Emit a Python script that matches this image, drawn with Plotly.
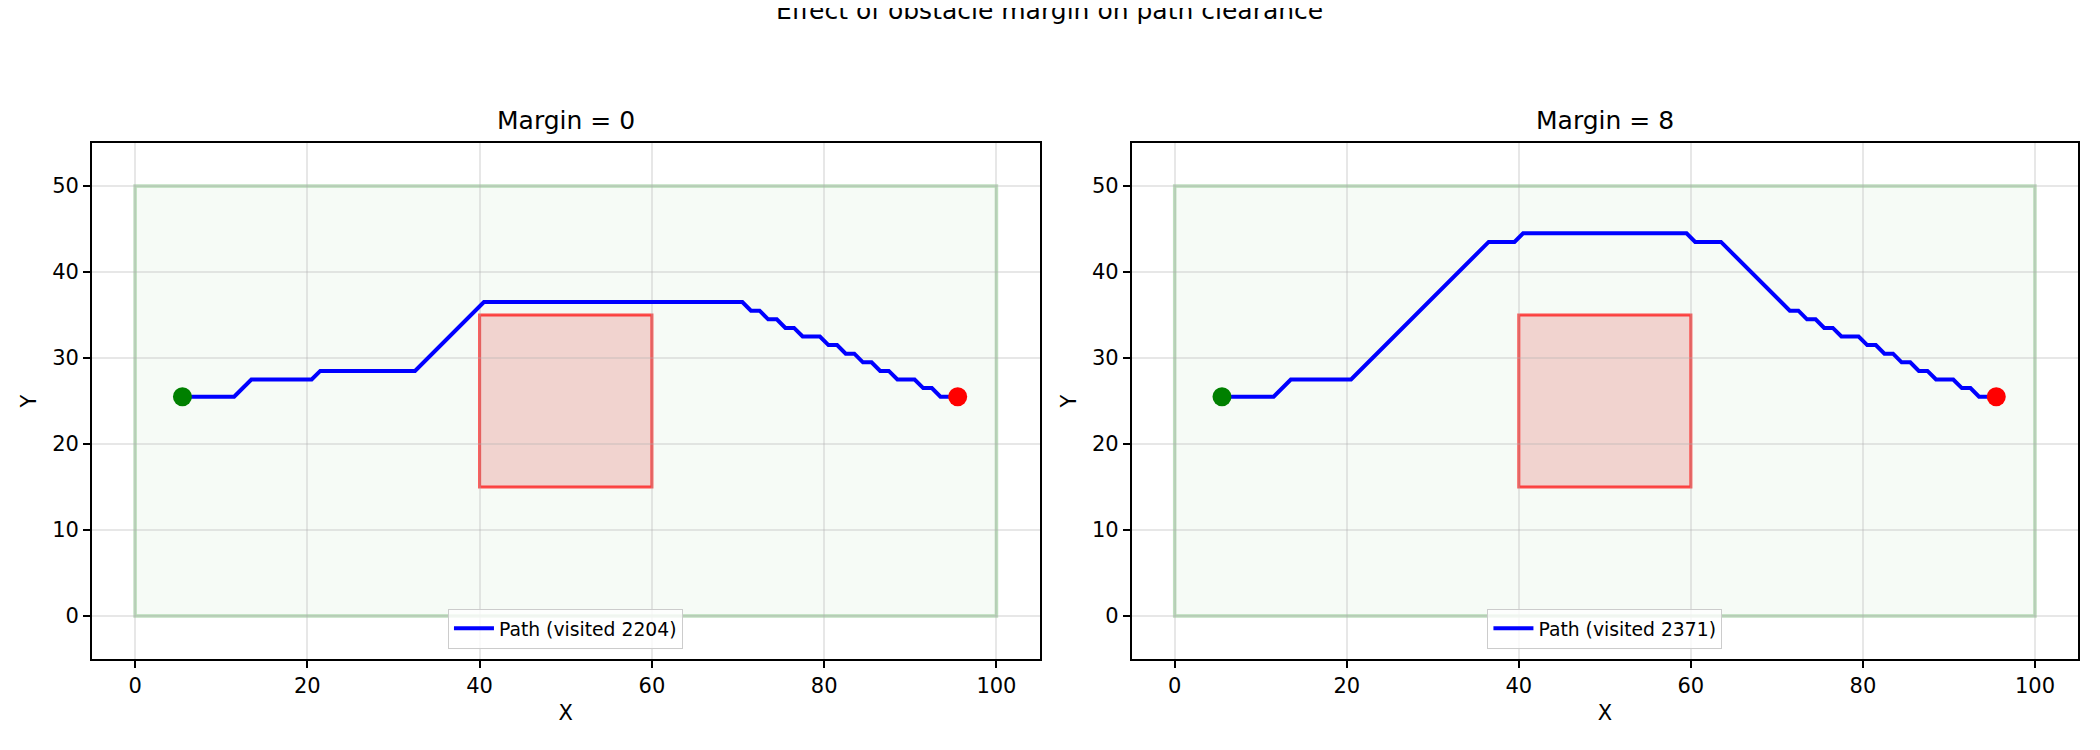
import plotly.graph_objects as go
from plotly.subplots import make_subplots

# ---- data ----
suptitle = "Effect of obstacle margin on path clearance"
panel_titles = ["Margin = 0", "Margin = 8"]
visited = [2204, 2371]

start_pt = (5.5, 25.5)
goal_pt = (95.5, 25.5)

region_x = [0, 100]
region_y = [0, 50]
obstacle_x = [40, 60]
obstacle_y = [15, 35]

left_x = [5.5, 11.5, 13.5, 20.5, 21.5, 32.5, 40.5, 70.5, 71.5, 72.5, 73.5, 74.5, 75.5,
          76.5, 77.5, 79.5, 80.5, 81.5, 82.5, 83.5, 84.5, 85.5, 86.5, 87.5, 88.5, 90.5,
          91.5, 92.5, 93.5, 95.5]
left_y = [25.5, 25.5, 27.5, 27.5, 28.5, 28.5, 36.5, 36.5, 35.5, 35.5, 34.5, 34.5, 33.5,
          33.5, 32.5, 32.5, 31.5, 31.5, 30.5, 30.5, 29.5, 29.5, 28.5, 28.5, 27.5, 27.5,
          26.5, 26.5, 25.5, 25.5]

right_x = [5.5, 11.5, 13.5, 20.5, 36.5, 39.5, 40.5, 59.5, 60.5, 63.5, 71.5, 72.5, 73.5,
           74.5, 75.5, 76.5, 77.5, 79.5, 80.5, 81.5, 82.5, 83.5, 84.5, 85.5, 86.5, 87.5,
           88.5, 90.5, 91.5, 92.5, 93.5, 95.5]
right_y = [25.5, 25.5, 27.5, 27.5, 43.5, 43.5, 44.5, 44.5, 43.5, 43.5, 35.5, 35.5, 34.5,
           34.5, 33.5, 33.5, 32.5, 32.5, 31.5, 31.5, 30.5, 30.5, 29.5, 29.5, 28.5, 28.5,
           27.5, 27.5, 26.5, 26.5, 25.5, 25.5]

x_ticks = [0, 20, 40, 60, 80, 100]
y_ticks = [0, 10, 20, 30, 40, 50]
x_range = [-5, 105]
y_range = [-5, 55]

paths = [(left_x, left_y), (right_x, right_y)]

# ---- figure ----
W, H = 2100, 750
ML, MR, MT, MB = 84, 30, 135, 99
FONT = "DejaVu Sans"

fig = make_subplots(rows=1, cols=2, horizontal_spacing=0.0464)
fig.update_xaxes(domain=[0, 0.4771], row=1, col=1)
fig.update_xaxes(domain=[0.5235, 1.0], row=1, col=2)

legend_names = ["legend", "legend2"]
legend_x = [0.2384, 0.7618]

for i, (px, py) in enumerate(paths):
    col = i + 1
    fig.add_trace(go.Scatter(
        x=px, y=py, mode="lines",
        line=dict(color="blue", width=4),
        name=f"Path (visited {visited[i]})",
        legend=legend_names[i], showlegend=True,
    ), row=1, col=col)
    fig.add_trace(go.Scatter(
        x=[start_pt[0]], y=[start_pt[1]], mode="markers",
        marker=dict(color="green", size=19), showlegend=False,
    ), row=1, col=col)
    fig.add_trace(go.Scatter(
        x=[goal_pt[0]], y=[goal_pt[1]], mode="markers",
        marker=dict(color="red", size=19), showlegend=False,
    ), row=1, col=col)
    xr = "x" if i == 0 else "x2"
    yr = "y" if i == 0 else "y2"
    fig.add_shape(type="rect", xref=xr, yref=yr,
                  x0=region_x[0], x1=region_x[1], y0=region_y[0], y1=region_y[1],
                  fillcolor="rgba(0,128,0,0.035)",
                  line=dict(color="rgba(0,128,0,0.25)", width=3.5), layer="below")
    fig.add_shape(type="rect", xref=xr, yref=yr,
                  x0=obstacle_x[0], x1=obstacle_x[1], y0=obstacle_y[0], y1=obstacle_y[1],
                  fillcolor="rgba(220,20,20,0.17)",
                  line=dict(color="rgba(255,0,0,0.7)", width=3), layer="below")
    fig.add_annotation(text=panel_titles[i], xref=f"{xr} domain", yref="paper",
                       x=0.5, y=1, xanchor="center", yanchor="bottom", yshift=6,
                       showarrow=False, font=dict(family=FONT, size=25, color="black"))

# figure-level title (partly above the top edge, as in the source image)
fig.add_annotation(text=suptitle, xref="paper", yref="paper", x=0.482, y=1,
                   xanchor="center", yanchor="middle", yshift=133, showarrow=False,
                   font=dict(family=FONT, size=25, color="black"))

axis_common = dict(
    showline=True, linecolor="black", linewidth=1.7, mirror=True,
    ticks="outside", ticklen=7, tickwidth=1.7, tickcolor="black",
    showgrid=True, gridcolor="rgba(176,176,176,0.3)", gridwidth=1.7,
    zeroline=False, tickfont=dict(family=FONT, size=21, color="black"),
    title_font=dict(family=FONT, size=21, color="black"),
)
fig.update_xaxes(range=x_range, tickvals=x_ticks, title_text="X", title_standoff=8,
                 **axis_common)
fig.update_yaxes(range=y_range, tickvals=y_ticks, title_text="Y", title_standoff=10,
                 **axis_common)

legend_common = dict(
    xanchor="center", yanchor="bottom", y=0.02, itemwidth=40,
    bgcolor="rgba(255,255,255,0.8)", bordercolor="#cccccc", borderwidth=1,
    font=dict(family=FONT, size=18.75, color="black"),
)
fig.update_layout(
    width=W, height=H,
    margin=dict(l=ML, r=MR, t=MT, b=MB, autoexpand=False),
    paper_bgcolor="white", plot_bgcolor="white",
    font=dict(family=FONT, color="black"),
    legend=dict(x=legend_x[0], **legend_common),
    legend2=dict(x=legend_x[1], **legend_common),
)

fig.write_html("out.html")
